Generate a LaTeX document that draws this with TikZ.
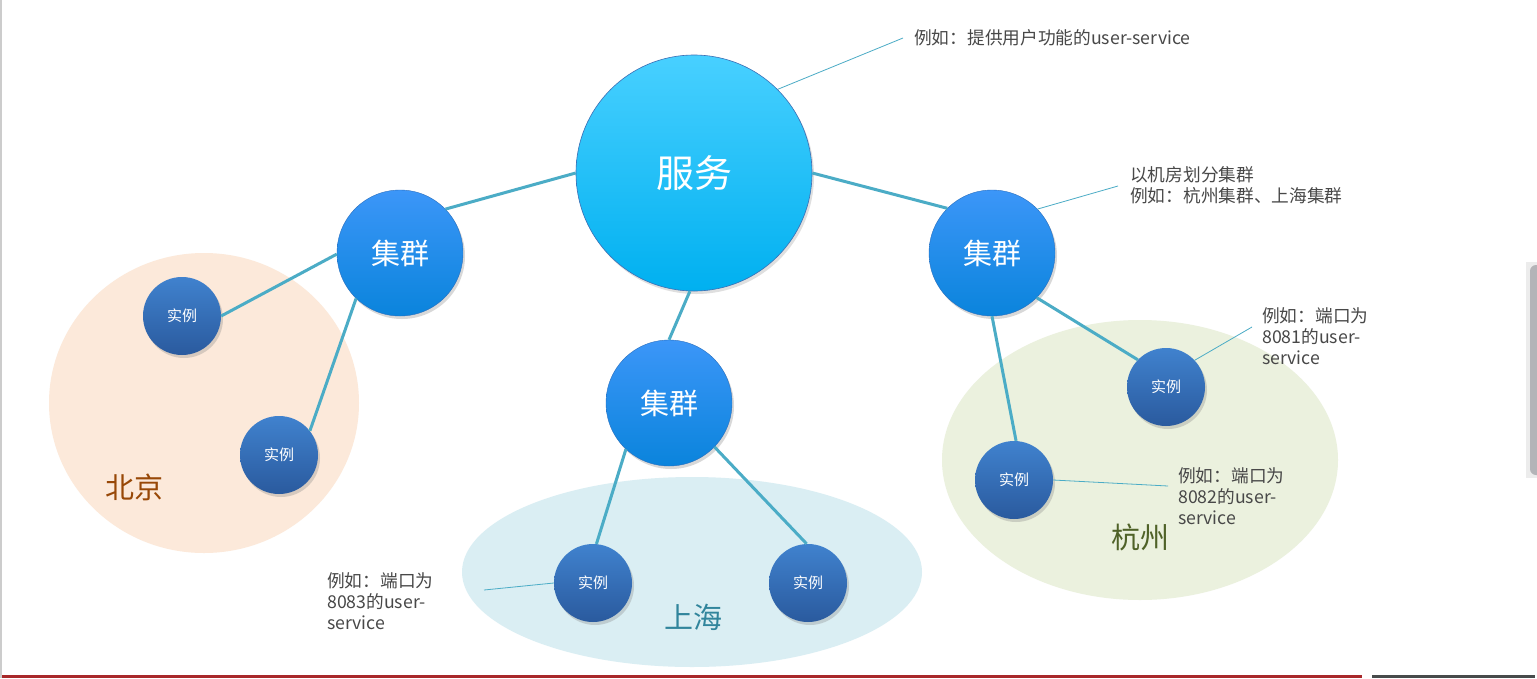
\documentclass[tikz,border=0pt]{standalone}
\usepackage{fontspec}
\setmainfont{Noto Sans CJK SC}
\usetikzlibrary{shadows}
\definecolor{edgec}{RGB}{75,172,198}
\definecolor{annc}{RGB}{72,72,72}
\definecolor{bjfill}{RGB}{252,233,218}
\definecolor{shfill}{RGB}{218,238,243}
\definecolor{hzfill}{RGB}{235,241,222}
\definecolor{bjtext}{RGB}{152,72,7}
\definecolor{shtext}{RGB}{49,133,156}
\definecolor{hztext}{RGB}{79,98,40}
\definecolor{svctop}{RGB}{72,208,255}
\definecolor{svcbot}{RGB}{0,176,240}
\definecolor{svcline}{RGB}{60,110,180}
\definecolor{clutop}{RGB}{60,150,248}
\definecolor{clubot}{RGB}{10,132,220}
\definecolor{cluline}{RGB}{40,110,190}
\definecolor{insttop}{RGB}{64,130,206}
\definecolor{instbot}{RGB}{42,90,158}
\definecolor{redbar}{RGB}{168,40,42}
\definecolor{graybar}{RGB}{71,75,75}
\definecolor{scrollc}{RGB}{180,180,184}
\tikzset{
  svcnode/.style={circle, inner sep=0pt, minimum size=236pt, top color=svctop, bottom color=svcbot,
    draw=svcline, line width=0.6pt, text=white,
    font=\fontsize{38}{42}\selectfont, drop shadow={opacity=0.25, shadow xshift=2pt, shadow yshift=-3pt}},
  clunode/.style={circle, inner sep=0pt, minimum size=126pt, top color=clutop, bottom color=clubot,
    draw=cluline, line width=0.4pt, text=white,
    font=\fontsize{29}{33}\selectfont, drop shadow={opacity=0.3, shadow xshift=2pt, shadow yshift=-3pt}},
  instnode/.style={circle, inner sep=0pt, minimum size=78pt, top color=insttop, bottom color=instbot,
    text=white, font=\fontsize{15}{18}\selectfont, drop shadow={opacity=0.3, shadow xshift=2pt, shadow yshift=-3pt}},
  link/.style={draw=edgec, line width=3pt},
  annline/.style={draw=edgec, line width=0.8pt},
  anntext/.style={text=annc, font=\fontsize{17.7}{21}\selectfont, align=left, anchor=west, inner sep=0pt},
  region/.style={font=\fontsize{29}{33}\selectfont, inner sep=0pt}
}
\begin{document}
\begin{tikzpicture}[x=1pt,y=-1pt]
\useasboundingbox (0,0) rectangle (1537,678);
\fill[white] (0,0) rectangle (1537,678);
% frame details
\fill[gray!40] (0,0) rectangle (1.5,678);
\fill[redbar] (1.5,674.5) rectangle (1362,678);
\fill[graybar] (1372,674.5) rectangle (1535,678);
\fill[gray!15] (1526,262) rectangle (1537,478);
\fill[scrollc, rounded corners=6pt] (1530,265) rectangle (1545,475);
% regions
\fill[bjfill] (204,403) ellipse [x radius=155pt, y radius=150pt];
\fill[shfill] (692,572) ellipse [x radius=230pt, y radius=95pt];
\fill[hzfill] (1140,460) ellipse [x radius=198pt, y radius=140pt];
\node[region, text=bjtext] (bj) at (134,487) {北京};
\node[region, text=shtext] (sh) at (693,617) {上海};
\node[region, text=hztext] (hz) at (1140,537) {杭州};
% nodes
\node[svcnode] (svc) at (694,173) {服务};
\node[clunode] (cl) at (400,253) {集群};
\node[clunode] (cm) at (669,403) {集群};
\node[clunode] (cr) at (992,253) {集群};
\node[instnode] (i1) at (182,316) {实例};
\node[instnode] (i2) at (279,455) {实例};
\node[instnode] (i3) at (593,583) {实例};
\node[instnode] (i4) at (808,583) {实例};
\node[instnode] (i5) at (1166,387) {实例};
\node[instnode] (i6) at (1014,480) {实例};
% links
\draw[link] (svc.180) -- (cl.44);
\draw[link] (svc.0) -- (cr.135);
\draw[link] (svc.268) -- (cm.90);
\draw[link] (cl.181) -- (i1.0);
\draw[link] (cl.226) -- (i2.38);
\draw[link] (cm.227) -- (i3.85);
\draw[link] (cm.316) -- (i4.92);
\draw[link] (cr.315) -- (i5.136);
\draw[link] (cr.270) -- (i6.87);
% annotations
\coordinate (a1) at (903,38);
\coordinate (a2) at (1118,186);
\coordinate (a3) at (1252,327);
\coordinate (a4) at (1168,486);
\coordinate (a5) at (484,590);
\draw[annline] (svc.45) -- (a1);
\draw[annline] (cr.44) -- (a2);
\draw[annline] (i5.43) -- (a3);
\draw[annline] (i6.0) -- (a4);
\draw[annline] (i3.180) -- (a5);
\node[anntext] (t1) at (914,38) {例如：提供用户功能的user-service};
\node[anntext] (t2) at (1130,185) {以机房划分集群\\例如：杭州集群、上海集群};
\node[anntext] (t3) at (1262,336) {例如：端口为\\8081的user-\\service};
\node[anntext] (t4) at (1178,496) {例如：端口为\\8082的user-\\service};
\node[anntext] (t5) at (327,601) {例如：端口为\\8083的user-\\service};
\end{tikzpicture}
\end{document}
